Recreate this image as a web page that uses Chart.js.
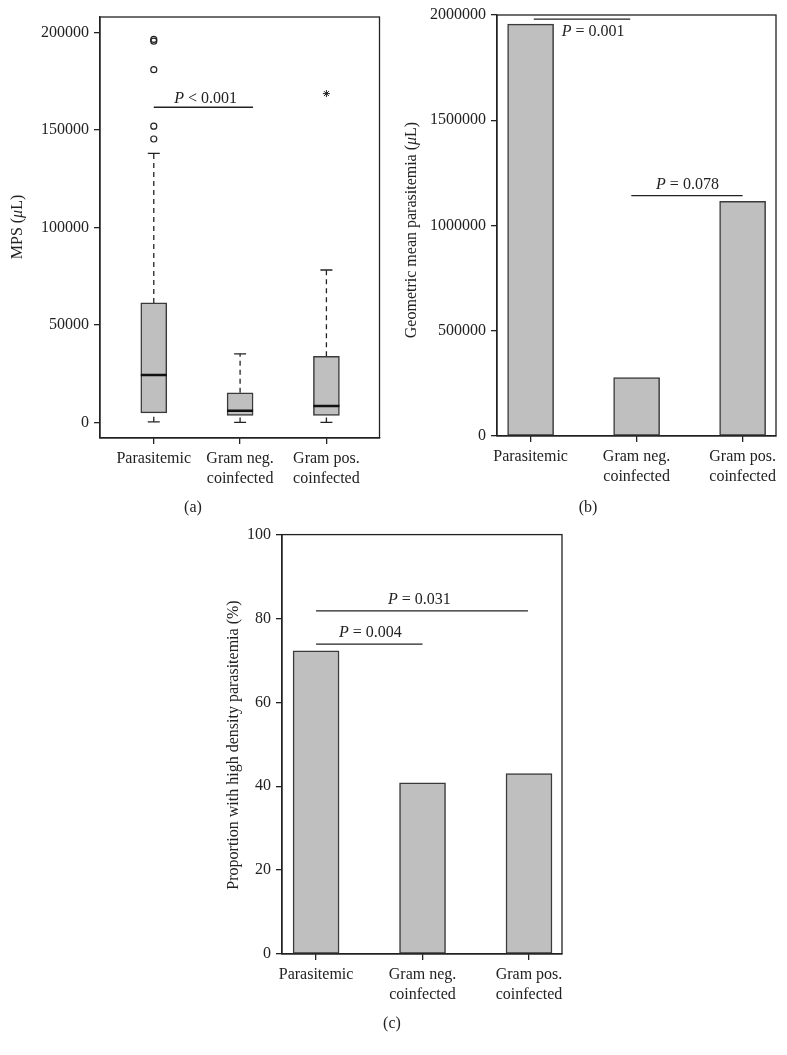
<!DOCTYPE html>
<html>
<head>
<meta charset="utf-8">
<script src="https://cdn.jsdelivr.net/npm/chart.js@4.4.1/dist/chart.umd.min.js"></script>
<style>
  body { margin: 0; background: #fff; width: 787px; height: 1055px; position: relative; overflow: hidden; }
  .box { position: absolute; }
  .cap { position: absolute; font: 16px "Liberation Serif", "DejaVu Serif", serif; color: #222; transform: translate(-50%, -50%); }
</style>
</head>
<body>
<div class="box" style="left:0;top:0;width:395px;height:520px"><canvas id="chartA"></canvas></div>
<div class="box" style="left:390px;top:0;width:397px;height:520px"><canvas id="chartB"></canvas></div>
<div class="box" style="left:200px;top:520px;width:390px;height:535px"><canvas id="chartC"></canvas></div>
<div class="cap" style="left:193px;top:507px">(a)</div>
<div class="cap" style="left:588px;top:507px">(b)</div>
<div class="cap" style="left:392px;top:1023px">(c)</div>
<script>
"use strict";

const groups = ["Parasitemic", ["Gram neg.", "coinfected"], ["Gram pos.", "coinfected"]];

// (a) MPS per group, box plot
const mpsLow = [300, 0, 0];
const mpsQ1 = [4900, 3600, 3600];
const mpsMedian = [24300, 6000, 8400];
const mpsQ3 = [61300, 15200, 33900];
const mpsHigh = [138000, 35200, 78200];
const mpsOutliers = [145400, 152000, 181000, 195600, 196500]; // parasitemic
const mpsExtremes = [168700]; // gram pos.
const mpsTicks = [0, 50000, 100000, 150000, 200000];

// (b) geometric mean parasitemia
const geoMean = [1957000, 277000, 1115000];
const geoTicks = [0, 500000, 1000000, 1500000, 2000000];

// (c) proportion with high density parasitemia
const highDensity = [72.3, 40.8, 43.0];
const pctTicks = [0, 20, 40, 60, 80, 100];

// significance bars
const sigA = [{ text: "< 0.001", from: 0, to: 1.15, y: 161700, tx: 0.6, ty: 165800 }];
const sigB = [
  { text: "= 0.001", from: 0.03, to: 0.94, y: 1980000, tx: 0.59, ty: 1918000 },
  { text: "= 0.078", from: 0.95, to: 2.0, y: 1142000, tx: 1.48, ty: 1192400 },
];
const sigC = [
  { text: "= 0.031", from: 0, to: 1.99, y: 81.8, tx: 0.97, ty: 84.5 },
  { text: "= 0.004", from: 0, to: 1.0, y: 73.9, tx: 0.51, ty: 76.5 },
];

const serif = '"Liberation Serif", "DejaVu Serif", serif';
const ink = "#222";
const barFill = "#bfbfbf";
const barEdge = "#3a3a3a";

function drawRich(ctx, parts, x, y, size) {
  let w = 0;
  parts.forEach(([t, it]) => {
    ctx.font = (it ? "italic " : "") + size + "px " + serif;
    w += ctx.measureText(t).width;
  });
  let cx = x - w / 2;
  ctx.textAlign = "left";
  ctx.textBaseline = "middle";
  parts.forEach(([t, it]) => {
    ctx.font = (it ? "italic " : "") + size + "px " + serif;
    ctx.fillText(t, cx, y);
    cx += ctx.measureText(t).width;
  });
}

const extras = {
  id: "extras",
  afterDraw(chart, args, opts) {
    const { ctx, chartArea: a } = chart;
    const { x, y } = chart.scales;
    ctx.save();
    ctx.strokeStyle = ink;
    ctx.fillStyle = ink;
    ctx.lineWidth = 1.3;
    ctx.strokeRect(a.left, a.top, a.right - a.left, a.bottom - a.top);
    (opts.sig || []).forEach((s) => {
      const py = y.getPixelForValue(s.y);
      ctx.beginPath();
      ctx.moveTo(x.getPixelForValue(s.from), py);
      ctx.lineTo(x.getPixelForValue(s.to), py);
      ctx.stroke();
      drawRich(ctx, [["P", 1], [" " + s.text, 0]], x.getPixelForValue(s.tx), y.getPixelForValue(s.ty), 16);
    });
    ctx.translate(opts.titleX, opts.titleY);
    ctx.rotate(-Math.PI / 2);
    drawRich(ctx, opts.title, 0, 0, 16);
    ctx.restore();
  },
};

function xScale(min, max, height) {
  return {
    type: "linear",
    min: min,
    max: max,
    offset: false,
    afterBuildTicks: (s) => { s.ticks = [0, 1, 2].map((v) => ({ value: v })); },
    afterFit: (s) => {
      s.height = height;
      s.paddingLeft = 0;
      s.paddingRight = 0;
    },
    ticks: {
      callback: (v) => groups[v],
      autoSkip: false,
      maxRotation: 0,
      padding: 5,
      color: ink,
      font: { family: serif, size: 16, lineHeight: 1.25 },
    },
    grid: { offset: false, drawOnChartArea: false, tickLength: 6, color: ink, lineWidth: 1.3 },
    border: { color: ink, width: 1.3 },
  };
}

function yScale(min, max, ticks, width) {
  return {
    type: "linear",
    min: min,
    max: max,
    afterBuildTicks: (s) => { s.ticks = ticks.map((v) => ({ value: v })); },
    afterFit: (s) => { s.width = width; },
    ticks: { callback: (v) => String(v), padding: 5, color: ink, font: { family: serif, size: 16 } },
    grid: { drawOnChartArea: false, tickLength: 6, color: ink, lineWidth: 1.3 },
    border: { color: ink, width: 1.3 },
  };
}

function baseOptions(pad, scales, extra) {
  return {
    responsive: true,
    maintainAspectRatio: false,
    animation: false,
    events: [],
    layout: { padding: pad },
    scales: scales,
    plugins: { legend: { display: false }, tooltip: { enabled: false }, extras: extra },
  };
}

// (a) box plot built from bars, lines and points
const boxDatasets = [
  {
    type: "scatter",
    order: 1,
    data: mpsMedian.map((v, i) => ({ x: i, y: v })),
    pointStyle: "line",
    pointRadius: 13,
    borderColor: "#111",
    borderWidth: 2.5,
  },
  {
    type: "scatter",
    order: 1,
    data: mpsOutliers.map((v) => ({ x: 0, y: v })),
    pointStyle: "circle",
    pointRadius: 3,
    backgroundColor: "rgba(0,0,0,0)",
    borderColor: ink,
    borderWidth: 1.2,
  },
  {
    type: "scatter",
    order: 1,
    data: mpsExtremes.map((v) => ({ x: 2, y: v })),
    pointStyle: "star",
    pointRadius: 3.5,
    borderColor: ink,
    borderWidth: 1,
  },
  {
    type: "scatter",
    order: 2,
    data: mpsLow.map((v, i) => ({ x: i, y: v })).concat(mpsHigh.map((v, i) => ({ x: i, y: v }))),
    pointStyle: "line",
    pointRadius: 6,
    borderColor: ink,
    borderWidth: 1.3,
  },
  {
    type: "bar",
    order: 5,
    data: mpsQ1.map((v, i) => ({ x: i, y: [v, mpsQ3[i]] })),
    backgroundColor: barFill,
    borderColor: barEdge,
    borderWidth: 1.5,
    borderSkipped: false,
    barThickness: 26,
  },
];
groups.forEach((g, i) => {
  [[mpsQ3[i], mpsHigh[i]], [mpsLow[i], mpsQ1[i]]].forEach(([a, b]) => {
    boxDatasets.push({
      type: "line",
      order: 4,
      data: [{ x: i, y: a }, { x: i, y: b }],
      borderColor: ink,
      borderWidth: 1.3,
      borderDash: [5, 4],
      pointRadius: 0,
    });
  });
});

// the median points (radius 13) force ~15.5px of layout padding on the right
new Chart(document.getElementById("chartA"), {
  type: "bar",
  data: { datasets: boxDatasets },
  options: baseOptions(
    { top: 17, right: 0, left: 0, bottom: 0 },
    { x: xScale(-0.623, 2.615, 82), y: yScale(-8000, 208000, mpsTicks, 100) },
    { sig: sigA, titleX: 18, titleY: 227, title: [["MPS (", 0], ["\u03bc", 1], ["L)", 0]] }
  ),
  plugins: [extras],
});

new Chart(document.getElementById("chartB"), {
  type: "bar",
  data: {
    datasets: [{
      data: geoMean.map((v, i) => ({ x: i, y: v })),
      backgroundColor: barFill,
      borderColor: barEdge,
      borderWidth: 1.5,
      borderSkipped: false,
      barThickness: 46,
    }],
  },
  options: baseOptions(
    { top: 15, right: 11, left: 0, bottom: 0 },
    { x: xScale(-0.317, 2.315, 84), y: yScale(0, 2000000, geoTicks, 107) },
    { sig: sigB, titleX: 22, titleY: 230, title: [["Geometric mean parasitemia (", 0], ["\u03bc", 1], ["L)", 0]] }
  ),
  plugins: [extras],
});

new Chart(document.getElementById("chartC"), {
  type: "bar",
  data: {
    datasets: [{
      data: highDensity.map((v, i) => ({ x: i, y: v })),
      backgroundColor: barFill,
      borderColor: barEdge,
      borderWidth: 1.5,
      borderSkipped: false,
      barThickness: 46,
    }],
  },
  options: baseOptions(
    { top: 13, right: 28, left: 0, bottom: 0 },
    { x: xScale(-0.32, 2.31, 101), y: yScale(0, 100, pctTicks, 82) },
    { sig: sigC, titleX: 34, titleY: 225, title: [["Proportion with high density parasitemia (%)", 0]] }
  ),
  plugins: [extras],
});
</script>
</body>
</html>
